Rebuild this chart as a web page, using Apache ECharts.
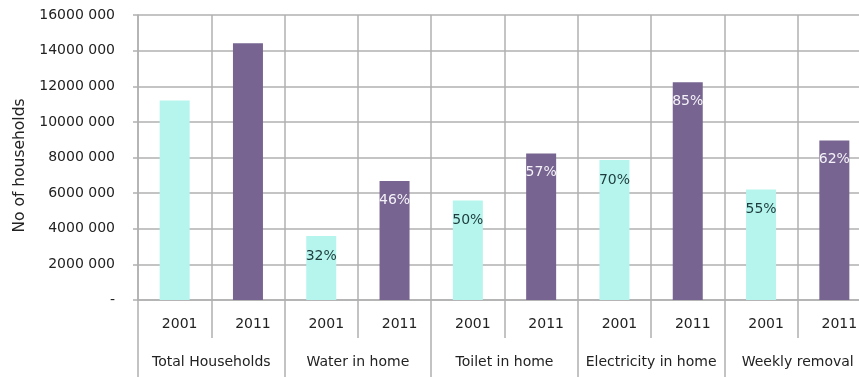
<!DOCTYPE html>
<html>
<head>
<meta charset="utf-8">
<script src="https://cdn.jsdelivr.net/npm/echarts@6/dist/echarts.min.js"></script>
<style>
  html, body { margin: 0; padding: 0; background: #fff; }
  #chart { width: 859px; height: 377px; }
</style>
</head>
<body>
<div id="chart"></div>
<script>
// groups and years along the x axis
var groups = ['Total Households', 'Water in home', 'Toilet in home', 'Electricity in home', 'Weekly removal'];
var years = ['2001', '2011'];
// number of households per group
var values2001 = [11200000, 3600000, 5580000, 7860000, 6210000];
var values2011 = [14420000, 6680000, 8230000, 12220000, 8950000];
// share of households, shown inside the bars
var pct2001 = [null, 32, 50, 70, 55];
var pct2011 = [null, 46, 57, 85, 62];
var yTickLabels = ['-', '2000 000', '4000 000', '6000 000', '8000 000', '10000 000', '12000 000', '14000 000', '16000 000'];

var fontFamily = '"DejaVu Sans", sans-serif';
var lineColor = '#b0b0b0';
var textColor = '#222222';

// one category per group/year pair
var yearCats = [];
var data2001 = [];
var data2011 = [];
groups.forEach(function (g, i) {
    yearCats.push(years[0], years[1]);
    data2001.push({ value: values2001[i], pct: pct2001[i] }, null);
    data2011.push(null, { value: values2011[i], pct: pct2011[i] });
});

function pctLabel(p) {
    return p.data && p.data.pct != null ? p.data.pct + '%' : '';
}

var chart = echarts.init(document.getElementById('chart'));
var option = {
    animation: false,
    textStyle: { fontFamily: fontFamily },
    grid: {
        left: 138,
        top: 15,
        width: 733,
        height: 285,
        containLabel: false,
        outerBoundsMode: 'none',
    },
    xAxis: [
        {
            type: 'category',
            position: 'bottom',
            data: yearCats,
            axisLine: { show: true, lineStyle: { color: lineColor, width: 1.5 } },
            axisTick: { show: true, length: 38, interval: 0, lineStyle: { color: lineColor, width: 1.5 } },
            axisLabel: {
                interval: 0,
                margin: 17,
                color: textColor,
                fontSize: 14,
                fontFamily: fontFamily,
                padding: [0, 0, 0, 10],
            },
            splitLine: { show: true, interval: 0, lineStyle: { color: lineColor, width: 1.5 } },
        },
        {
            type: 'category',
            position: 'bottom',
            data: groups,
            axisLine: { show: false },
            axisTick: { show: true, length: 77, interval: 0, lineStyle: { color: lineColor, width: 1.5 } },
            axisLabel: {
                interval: 0,
                margin: 55,
                color: textColor,
                fontSize: 14,
                fontFamily: fontFamily,
            },
            splitLine: { show: false },
        },
    ],
    yAxis: {
        type: 'value',
        min: 0,
        max: 16000000,
        interval: 2000000,
        name: 'No of households',
        nameLocation: 'middle',
        nameGap: 108,
        nameTextStyle: { color: textColor, fontSize: 15.5, fontFamily: fontFamily, padding: [0, 16, 0, 0] },
        axisLine: { show: true, lineStyle: { color: lineColor, width: 1.5 } },
        axisTick: { show: true, length: 5, lineStyle: { color: lineColor, width: 1.5 } },
        axisLabel: {
            margin: 23,
            color: textColor,
            fontSize: 14,
            fontFamily: fontFamily,
            formatter: function (v) {
                return yTickLabels[Math.round(v / 2000000)];
            },
        },
        splitLine: { show: true, lineStyle: { color: lineColor, width: 1.5 } },
    },
    series: [
        {
            name: '2001',
            type: 'bar',
            xAxisIndex: 0,
            data: data2001,
            barWidth: 30,
            barGap: '-100%',
            itemStyle: { color: '#b5f5ee' },
            label: {
                show: true,
                position: 'insideTop',
                distance: 13,
                color: '#1e3c3c',
                fontSize: 14,
                fontFamily: fontFamily,
                formatter: pctLabel,
            },
        },
        {
            name: '2011',
            type: 'bar',
            xAxisIndex: 0,
            data: data2011,
            barWidth: 30,
            barGap: '-100%',
            itemStyle: { color: '#776490' },
            label: {
                show: true,
                position: 'insideTop',
                distance: 12,
                color: '#f4f2f8',
                fontSize: 14,
                fontFamily: fontFamily,
                formatter: pctLabel,
            },
        },
    ],
};
chart.setOption(option);
</script>
</body>
</html>
